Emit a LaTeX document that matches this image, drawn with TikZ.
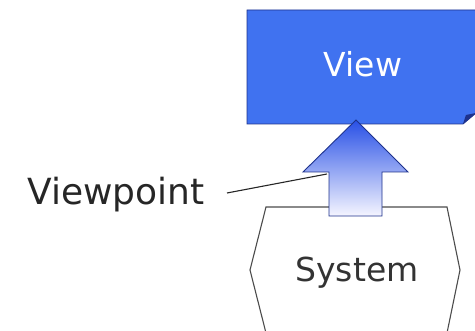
\documentclass[tikz,border=0pt]{standalone}
\usepackage{fontspec}
\setmainfont{DejaVu Sans}
\begin{document}
\begin{tikzpicture}[x=1pt,y=1pt,
  lbl/.style={inner sep=0pt,font=\fontsize{33}{36}\selectfont},
  edge/.style={line width=0.8pt}]
\useasboundingbox (0,0) rectangle (475,331);
\definecolor{viewblue}{RGB}{64,114,240}
\definecolor{viewdark}{RGB}{30,50,140}
\definecolor{arrtop}{RGB}{40,80,230}
\definecolor{arrbot}{RGB}{245,245,255}
% System hexagon
\draw[gray!60!black,line width=1.1pt,fill=white]
  (266,124) -- (447,124) -- (460,61) -- (447,-2) -- (266,-2) -- (250,61) -- cycle;
\node[lbl,text=black!80,anchor=base] (system) at (357,49) {System};
% View box with folded corner
\draw[viewdark,line width=0.9pt,fill=viewblue]
  (247,321) -- (476,321) -- (476,218) -- (463,207) -- (247,207) -- cycle;
\fill[viewdark] (463,207) -- (466,216) -- (476,218) -- cycle;
\node[lbl,text=white,anchor=base] (view) at (363,254) {View};
% Arrow
\path[top color=arrtop,bottom color=arrbot,draw=viewdark,line width=0.9pt]
  (356,211) -- (408,159) -- (382,159) -- (382,115) -- (329,115) -- (329,159) -- (303,159) -- cycle;
\coordinate (arrowside) at (327,157);
% Viewpoint label
\node[lbl,font=\fontsize{36}{40}\selectfont,text=black!85,anchor=base] (vp) at (116,126) {Viewpoint};
\draw[black!85,line width=1.1pt] (227,138) -- (arrowside);
\end{tikzpicture}
\end{document}
